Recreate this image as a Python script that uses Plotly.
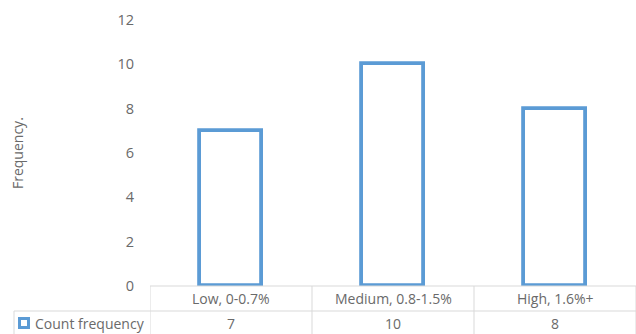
import plotly.graph_objects as go

categories = ["Low, 0-0.7%", "Medium, 0.8-1.5%", "High, 1.6%+"]
counts = [7, 10, 8]
series_name = "Count frequency"
y_ticks = [0, 2, 4, 6, 8, 10, 12]

W, H = 636, 334
L, R, T, B = 150, 0, 20, 48
plot_h = H - T - B
FONT = "Open Sans"
TXT = "#6a6a6a"
GRID = "#d9d9d9"
BLUE = "#5B9BD5"
FS = 14

def py(px_from_axis):
    return -px_from_axis / plot_h

def px(xpix):
    return (xpix - L) / (W - L - R)

fig = go.Figure()
fig.add_trace(go.Bar(
    x=list(range(len(categories))), y=counts, width=0.385,
    marker=dict(color="white", line=dict(color=BLUE, width=3.8)),
    name=series_name, showlegend=False, hoverinfo="skip",
))

shapes = []
shapes.append(dict(type="line", xref="paper", yref="paper", x0=0, x1=1, y0=0, y1=0,
                   line=dict(color=GRID, width=1)))
shapes.append(dict(type="line", xref="paper", yref="paper", x0=px(14), x1=1,
                   y0=py(25), y1=py(25), line=dict(color=GRID, width=1)))
for i in range(len(categories) + 1):
    shapes.append(dict(type="line", xref="x", yref="paper", x0=i - 0.5, x1=i - 0.5,
                       y0=0, y1=py(50), line=dict(color=GRID, width=1)))
shapes.append(dict(type="line", xref="paper", yref="paper", x0=px(14), x1=px(14),
                   y0=py(25), y1=py(50), line=dict(color=GRID, width=1)))
shapes.append(dict(type="rect", xref="paper", yref="paper", x0=px(19.5), x1=px(28.5),
                   y0=py(41.5), y1=py(32.5), line=dict(color=BLUE, width=3), fillcolor="white"))

annotations = []
for i, c in enumerate(categories):
    annotations.append(dict(x=i, y=py(12.5), xref="x", yref="paper", text=c, showarrow=False,
                            font=dict(family=FONT, size=FS, color=TXT), yanchor="middle"))
    annotations.append(dict(x=i, y=py(37), xref="x", yref="paper", text=str(counts[i]), showarrow=False,
                            font=dict(family=FONT, size=FS, color=TXT), yanchor="middle"))
annotations.append(dict(x=px(33), y=py(37), xref="paper", yref="paper",
                        text=series_name, showarrow=False, xanchor="left", yanchor="middle",
                        font=dict(family=FONT, size=FS, color=TXT)))
annotations.append(dict(x=px(17), y=(286 - 153) / plot_h, xref="paper", yref="paper",
                        text="Frequency.", textangle=-90, showarrow=False,
                        xanchor="center", yanchor="middle",
                        font=dict(family=FONT, size=FS, color=TXT)))

fig.update_layout(
    width=W, height=H, margin=dict(l=L, r=R, t=T, b=B),
    paper_bgcolor="white", plot_bgcolor="white",
    shapes=shapes, annotations=annotations,
    xaxis=dict(range=[-0.5, 2.5], showticklabels=False, showgrid=False, zeroline=False,
               showline=False, fixedrange=True),
    yaxis=dict(range=[0, 12], tickvals=y_ticks, showgrid=False, zeroline=False, showline=False,
               tickfont=dict(family=FONT, size=14.5, color=TXT), ticklabelstandoff=15,
               fixedrange=True),
    bargap=0,
)

fig.write_html("out.html")
